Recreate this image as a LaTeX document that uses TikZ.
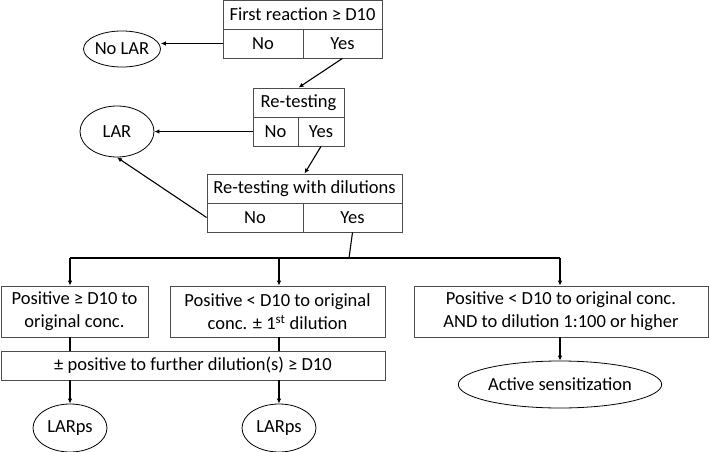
\documentclass[tikz,border=0pt]{standalone}
\usepackage{fontspec}
\setmainfont{Carlito}
\usetikzlibrary{shapes.geometric,arrows.meta}

\begin{document}
\begin{tikzpicture}[x=1pt,y=-1pt,
    font=\fontsize{18.5}{23}\selectfont,
    cell/.style={draw=black!70, line width=0.8pt, inner sep=0pt, align=center},
    oval/.style={ellipse, draw=black, line width=0.8pt, inner sep=0pt},
    arr/.style={-{Latex[length=5pt,width=4.5pt]}, line width=1.1pt},
    con/.style={line width=1.1pt}]
\useasboundingbox (0,0) rectangle (709,452);
% first test
\node[cell, minimum width=159, minimum height=29] (q1) at (302.5,14.5) {First reaction ≥ D10};
\node[cell, minimum width=80, minimum height=29] (q1no) at (263,43.5) {No};
\node[cell, minimum width=79, minimum height=29] (q1yes) at (342.5,43.5) {Yes};
\node[oval, minimum width=74, minimum height=36] (nolar) at (122,49) {No LAR};
% re-testing
\node[cell, minimum width=91, minimum height=29] (q2) at (298.5,102.5) {Re-testing};
\node[cell, minimum width=45, minimum height=29] (q2no) at (275.5,131.5) {No};
\node[cell, minimum width=46, minimum height=29] (q2yes) at (321,131.5) {Yes};
\node[oval, minimum width=74, minimum height=51] (lar) at (117,131.5) {LAR};
% re-testing with dilutions
\node[cell, minimum width=195, minimum height=29] (q3) at (304.5,188.5) {Re-testing with dilutions};
\node[cell, minimum width=96, minimum height=29] (q3no) at (255,217.5) {No};
\node[cell, minimum width=99, minimum height=29] (q3yes) at (352.5,217.5) {Yes};
% outcomes
\coordinate (split) at (349,258);
\coordinate (ha) at (70,258);
\coordinate (hb) at (279,258);
\coordinate (hc) at (560,258);
\node[cell, minimum width=147, minimum height=51] (posa) at (74.5,311.5) {Positive ≥ D10 to\\original conc.};
\node[cell, minimum width=215, minimum height=51] (posb) at (277.5,311.5) {Positive < D10 to original\\conc. ± 1\textsuperscript{st} dilution};
\node[cell, minimum width=294, minimum height=51] (posc) at (561,311.5) {Positive < D10 to original conc.\\AND to dilution 1:100 or higher};
\node[cell, minimum width=384, minimum height=29] (further) at (193,365.5) {± positive to further dilution(s) ≥ D10};
\node[oval, minimum width=74, minimum height=48] (larps1) at (70,428) {LARps};
\node[oval, minimum width=74, minimum height=48] (larps2) at (279,428) {LARps};
\node[oval, minimum width=183, minimum height=47] (active) at (560,384.5) {Active sensitization};

\draw[arr] (q1no.west) -- (q1no.west -| nolar.east);
\draw[arr] (q1yes.south) -- (q2.north);
\draw[arr] (q2no.west) -- (lar.east);
\draw[arr] (q2yes.south) -- (q3.north);
\draw[arr] (q3no.west) -- (lar.south);
\draw[con] (q3yes.south) -- (split);
\draw[con] (ha) -- (hc);
\draw[arr] (ha) -- (ha |- posa.north);
\draw[arr] (hb) -- (hb |- posb.north);
\draw[arr] (hc) -- (hc |- posc.north);
\draw[con] (ha |- posa.south) -- (ha |- further.north);
\draw[con] (hb |- posb.south) -- (hb |- further.north);
\draw[arr] (ha |- further.south) -- (larps1.north);
\draw[arr] (hb |- further.south) -- (larps2.north);
\draw[arr] (hc |- posc.south) -- (active.north);
\end{tikzpicture}
\end{document}
